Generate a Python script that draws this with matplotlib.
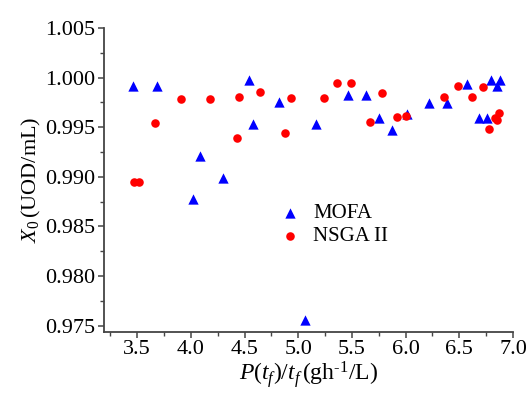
import matplotlib
matplotlib.use("Agg")
import matplotlib.pyplot as plt
from matplotlib.ticker import MultipleLocator, FormatStrFormatter

plt.rcParams['font.family'] = ['Liberation Serif', 'DejaVu Serif']
plt.rcParams['mathtext.fontset'] = 'custom'
plt.rcParams['mathtext.rm'] = 'Liberation Serif'
plt.rcParams['mathtext.it'] = 'Liberation Serif:italic'

mofa_x = [3.459, 3.680, 4.537, 4.823, 4.578, 5.166, 4.082, 4.294, 4.023, 5.061,
          5.463, 5.634, 5.755, 5.874, 6.010, 6.216, 6.388, 6.568, 6.683, 6.762,
          6.799, 6.879, 6.855]
mofa_y = [0.99917, 0.99917, 0.99977, 0.99753, 0.99535, 0.99535, 0.99214, 0.98990,
          0.98772, 0.97560, 0.99823, 0.99823, 0.99592, 0.99475, 0.99636, 0.99746,
          0.99746, 0.99937, 0.99592, 0.99592, 0.99977, 0.99977, 0.99914]

nsga_x = [3.905, 4.179, 4.447, 4.646, 4.933, 3.662, 4.428, 4.874, 3.468, 3.515,
          5.241, 5.363, 5.491, 5.777, 5.665, 5.921, 6.007, 6.353, 6.487, 6.615,
          6.721, 6.780, 6.833, 6.855, 6.874]
nsga_y = [0.99783, 0.99783, 0.99809, 0.99853, 0.99796, 0.99542, 0.99392, 0.99445,
          0.98950, 0.98950, 0.99793, 0.99947, 0.99947, 0.99843, 0.99552, 0.99605,
          0.99612, 0.99809, 0.99914, 0.99806, 0.99910, 0.99485, 0.99592, 0.99575,
          0.99646]

fig = plt.figure(figsize=(5.30, 3.97), dpi=100)
ax = fig.add_axes([104/530, 1-332/397, (513-104)/530, (332-28)/397])

ax.scatter(mofa_x, mofa_y, marker='^', s=55, color='#0000ff', linewidths=0, label='MOFA', zorder=3)
ax.scatter(nsga_x, nsga_y, marker='o', s=38, color='#ff0000', linewidths=0, label='NSGA II', zorder=3)

ax.set_xlim(3.19, 7.0)
ax.set_ylim(0.97435, 1.005)
ax.xaxis.set_major_locator(MultipleLocator(0.5))
ax.xaxis.set_minor_locator(MultipleLocator(0.25))
ax.yaxis.set_major_locator(MultipleLocator(0.005))
ax.yaxis.set_minor_locator(MultipleLocator(0.0025))
ax.xaxis.set_major_formatter(FormatStrFormatter('%.1f'))
ax.yaxis.set_major_formatter(FormatStrFormatter('%.3f'))

for s in ['top', 'right']:
    ax.spines[s].set_visible(False)
for s in ['left', 'bottom']:
    ax.spines[s].set_color('#444444')
    ax.spines[s].set_linewidth(1.3)

ax.tick_params(axis='both', which='major', direction='out', length=4, width=1.1,
               color='#444444', labelsize=16, pad=2)
ax.tick_params(axis='both', which='minor', direction='out', length=3, width=1.0,
               color='#444444')

ax.set_xlabel(r'$P(t_f)/t_f\,$(gh$^{\text{-}1}$/L)', fontsize=17, labelpad=0)
ax.set_ylabel(r'$X_{\mathrm{0}}\,$(UOD/mL)', fontsize=16, labelpad=2)

leg = ax.legend(loc='upper left', bbox_to_anchor=(0.405, 0.456), frameon=False,
                fontsize=15, handletextpad=0.6, labelspacing=0.15, borderpad=0,
                handlelength=1.0, scatterpoints=1)

fig.savefig('out.png', dpi=100)
